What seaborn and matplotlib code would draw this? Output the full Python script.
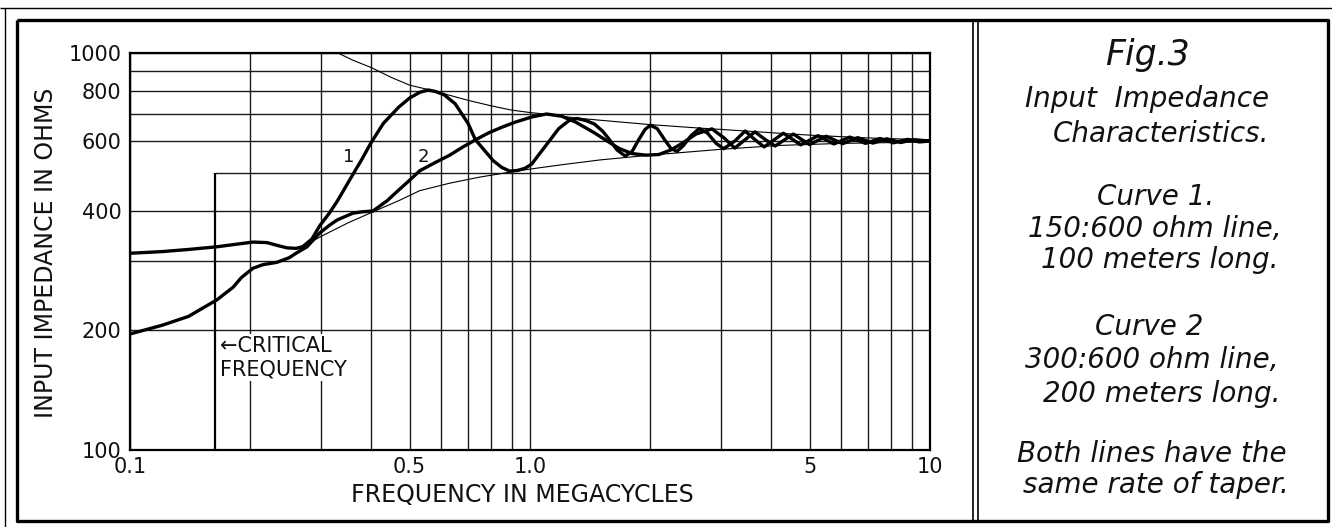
import numpy as np
import pandas as pd
import matplotlib
matplotlib.use("Agg")
import matplotlib.pyplot as plt
import seaborn as sns
from matplotlib.lines import Line2D
from matplotlib.ticker import FixedLocator, FixedFormatter, NullFormatter

# ---------------- data ----------------
# Curve 1: 150:600 ohm line, 100 m
f1 = [0.10, 0.12, 0.14, 0.165, 0.185, 0.203, 0.22, 0.235, 0.247, 0.26,
      0.27, 0.285, 0.298, 0.315, 0.33, 0.355, 0.38, 0.40, 0.43, 0.47,
      0.50, 0.53, 0.556, 0.58, 0.61, 0.65, 0.70, 0.73, 0.77, 0.81,
      0.85, 0.89, 0.93, 0.97, 1.01, 1.06, 1.12, 1.18, 1.25, 1.31,
      1.38, 1.45, 1.52, 1.58, 1.65, 1.73, 1.80, 1.87, 1.94, 2.0,
      2.08, 2.17, 2.25, 2.33, 2.42, 2.53, 2.65, 2.78, 2.92, 3.05,
      3.25, 3.45, 3.65, 3.85, 4.3, 4.75, 5.25, 5.75, 6.3, 6.9,
      7.5, 8.1, 8.8, 9.4, 10.0]
z1 = [313, 316, 320, 325, 330, 334, 333, 327, 323, 322,
      325, 340, 367, 395, 424, 481, 540, 593, 665, 731,
      770, 796, 807, 800, 785, 745, 665, 605, 568, 535,
      515, 504, 506, 512, 525, 560, 602, 645, 675, 684,
      676, 662, 635, 605, 570, 550, 565, 605, 642, 658,
      645, 605, 575, 565, 585, 620, 645, 628, 592, 574,
      600, 636, 605, 580, 628, 587, 619, 590, 614, 592,
      609, 594, 606, 597, 600]

# Curve 2: 300:600 ohm line, 200 m
f2 = [0.10, 0.12, 0.14, 0.165, 0.181, 0.19, 0.203, 0.215, 0.233, 0.25,
      0.26, 0.277, 0.298, 0.315, 0.33, 0.361, 0.38, 0.405, 0.44, 0.47,
      0.50, 0.53, 0.58, 0.63, 0.68, 0.73, 0.79, 0.85, 0.92, 1.01,
      1.1, 1.2, 1.3, 1.45, 1.56, 1.67, 1.8, 1.95, 2.1, 2.25,
      2.4, 2.6, 2.85, 3.05, 3.25, 3.45, 3.65, 3.85, 4.1, 4.55,
      5.0, 5.5, 6.05, 6.6, 7.2, 7.8, 8.45, 9.1, 10.0]
z2 = [196, 206, 217, 239, 257, 272, 287, 293, 297, 305,
      313, 325, 352, 368, 380, 395, 398, 400, 425, 452,
      478, 505, 530, 553, 580, 604, 630, 650, 670, 690,
      702, 693, 670, 629, 600, 575, 558, 553, 555, 570,
      592, 625, 644, 612, 576, 605, 633, 608, 583, 625,
      588, 617, 591, 612, 593, 608, 595, 605, 600]

# Thin envelope curves
f_upper = [0.331, 0.36, 0.403, 0.45, 0.5, 0.556, 0.6, 0.7, 0.8, 0.9, 1.0,
           1.1, 1.3, 1.5, 2.0, 2.65, 3.0, 4.0, 5.0, 7.0, 10.0]
z_upper = [1000, 960, 917, 868, 830, 809, 793, 760, 736, 718, 708,
           701, 686, 677, 660, 647, 642, 630, 621, 611, 604]
f_lower = [0.285, 0.3, 0.35, 0.405, 0.473, 0.53, 0.63, 0.75, 0.89, 1.0,
           1.2, 1.5, 2.0, 3.0, 4.2, 6.0, 10.0]
z_lower = [335, 345, 373, 398, 426, 450, 470, 487, 501, 510,
           523, 538, 553, 572, 585, 592, 597]

critical_freq = 0.163

x_ticks = [0.1, 0.5, 1.0, 5, 10]
x_tick_labels = ["0.1", "0.5", "1.0", "5", "10"]
x_grid_minor = [0.2, 0.3, 0.4, 0.6, 0.7, 0.8, 0.9, 2, 3, 4, 6, 7, 8, 9]
y_ticks = [100, 200, 400, 600, 800, 1000]
y_tick_labels = ["100", "200", "400", "600", "800", "1000"]
y_grid_minor = [300, 700, 900]

panel_lines = [
    ("Fig.3", 65, 25),
    ("Input  Impedance", 107, 20),
    ("Characteristics.", 142, 20),
    ("Curve 1.", 205, 20),
    ("150:600 ohm line,", 237, 20),
    ("100 meters long.", 268, 20),
    ("Curve 2", 335, 20),
    ("300:600 ohm line,", 368, 20),
    ("200 meters long.", 402, 20),
    ("Both lines have the", 462, 20),
    ("same rate of taper.", 493, 20),
]
panel_x = [1147, 1147, 1161, 1156, 1155, 1160, 1149, 1152, 1162, 1152, 1156]

# ---------------- figure ----------------
sns.set_theme(style="white")
plt.rcParams["font.family"] = ["DejaVu Sans"]

W, H = 1332, 527
fig = plt.figure(figsize=(W / 100, H / 100), dpi=100)
fig.patch.set_facecolor("white")


def fx(px):
    return px / W


def fy(py):
    return 1 - py / H


ax = fig.add_axes([fx(130), fy(450), fx(930) - fx(130), fy(53) - fy(450)])
ax.set_facecolor("white")
ax.set_xscale("log")
ax.set_yscale("log")
ax.set_xlim(0.1, 10)
ax.set_ylim(100, 1000)

ax.xaxis.set_major_locator(FixedLocator(x_ticks))
ax.xaxis.set_major_formatter(FixedFormatter(x_tick_labels))
ax.xaxis.set_minor_locator(FixedLocator(x_grid_minor))
ax.xaxis.set_minor_formatter(NullFormatter())
ax.yaxis.set_major_locator(FixedLocator(y_ticks))
ax.yaxis.set_major_formatter(FixedFormatter(y_tick_labels))
ax.yaxis.set_minor_locator(FixedLocator(y_grid_minor))
ax.yaxis.set_minor_formatter(NullFormatter())
ax.tick_params(which="both", length=0, labelsize=15, colors="#111111")
ax.tick_params(axis="y", pad=6)
ax.tick_params(axis="x", pad=5)
ax.grid(which="both", color="#1a1a1a", lw=1.0)
ax.set_axisbelow(True)
for s in ax.spines.values():
    s.set_color("black")
    s.set_linewidth(1.6)

# 500-ohm line starts at the critical frequency; critical frequency marker
ax.hlines(500, critical_freq, 10, color="#1a1a1a", lw=1.0, zorder=1)
ax.vlines(critical_freq, 100, 500, color="black", lw=1.6, zorder=2)

# envelopes
sns.lineplot(x=f_upper, y=z_upper, ax=ax, color="black", lw=0.8, sort=False)
sns.lineplot(x=f_lower, y=z_lower, ax=ax, color="black", lw=0.8, sort=False)

# curves
df1 = pd.DataFrame({"f": f1, "z": z1})
df2 = pd.DataFrame({"f": f2, "z": z2})
sns.lineplot(data=df1, x="f", y="z", ax=ax, color="black", lw=2.4, sort=False)
sns.lineplot(data=df2, x="f", y="z", ax=ax, color="black", lw=2.4, sort=False)
ax.set_xlabel("")
ax.set_ylabel("")

ax.text(0.352, 548, "1", fontsize=13, ha="center", va="center", color="#111111")
ax.text(0.54, 548, "2", fontsize=13, ha="center", va="center", color="#111111")

fig.text(fx(220), fy(336), "\u2190CRITICAL\nFREQUENCY", fontsize=15, ha="left", va="top",
         linespacing=1.2, color="#111111",
         bbox=dict(facecolor="white", edgecolor="none", pad=1.5))

fig.text(fx(46), fy(253), "INPUT IMPEDANCE IN OHMS", rotation=90, fontsize=17,
         ha="center", va="center", color="#111111")
fig.text(fx(522), fy(495), "FREQUENCY IN MEGACYCLES", fontsize=17,
         ha="center", va="center", color="#111111")

# frame
def fline(xs, ys, lw):
    fig.add_artist(Line2D([fx(v) for v in xs], [fy(v) for v in ys],
                          transform=fig.transFigure, color="black", lw=lw,
                          solid_capstyle="butt"))

fline([0, W], [8, 8], 1.0)
fline([5, 5], [8, H], 1.0)
fline([17, 1328, 1328, 17, 17], [20, 20, 521, 521, 20], 2.4)
fline([973, 973], [20, 521], 1.2)
fline([978, 978], [20, 521], 1.2)

# right-hand caption panel
for (txt, base, size), xc in zip(panel_lines, panel_x):
    fig.text(fx(xc), fy(base), txt, fontsize=size, ha="center", va="baseline",
             family=["DejaVu Sans"], style="oblique", color="#111111")

fig.savefig("out.png", dpi=100, facecolor="white")
